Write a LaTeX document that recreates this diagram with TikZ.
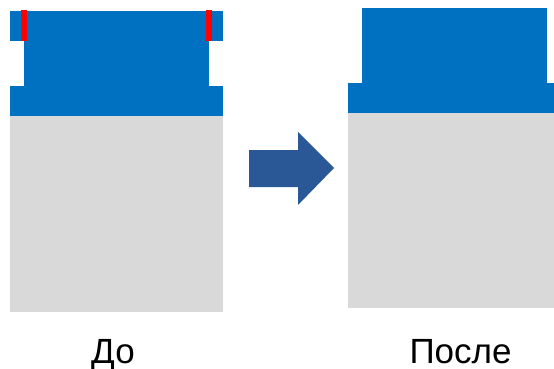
\documentclass[tikz,border=0pt]{standalone}
\usepackage{fontspec}
\setmainfont{Liberation Sans}
\usepackage{tikz}
\usetikzlibrary{calc,positioning}
\definecolor{partblue}{HTML}{0070C0}
\definecolor{basegray}{HTML}{D9D9D9}
\definecolor{arrowblue}{HTML}{2A5796}
\tikzset{
  base/.style={fill=basegray},
  part/.style={fill=partblue},
  cut/.style={fill=red},
  caption/.style={anchor=base, font=\fontsize{35}{40}\selectfont, inner sep=0pt}
}

\begin{document}
\begin{tikzpicture}[x=1pt, y=-1pt]
           \useasboundingbox (0,0) rectangle (554,369);
           % before
           \fill[base] (10,116) rectangle (223,312);
           \fill[part] (10,86) rectangle (223,116);
           \fill[part] (24,41) rectangle (209,86);
           \fill[part] (10,11) rectangle (223,41);
           \fill[cut] (21,10) rectangle (27,41);
           \fill[cut] (206,10) rectangle (212,41);
           % after
           \fill[base] (348,113) rectangle (554,308);
           \fill[part] (348,83) rectangle (554,113);
           \fill[part] (362,8) rectangle (547,83);
           % arrow
           \fill[arrowblue] (249,150) -- (298,150) -- (298,132) -- (334,168)
             -- (298,205) -- (298,187) -- (249,187) -- cycle;
           \node[caption] (before) at (113,363) {До};
           \node[caption] (after) at (460.5,363) {После};
        \end{tikzpicture}
\end{document}
